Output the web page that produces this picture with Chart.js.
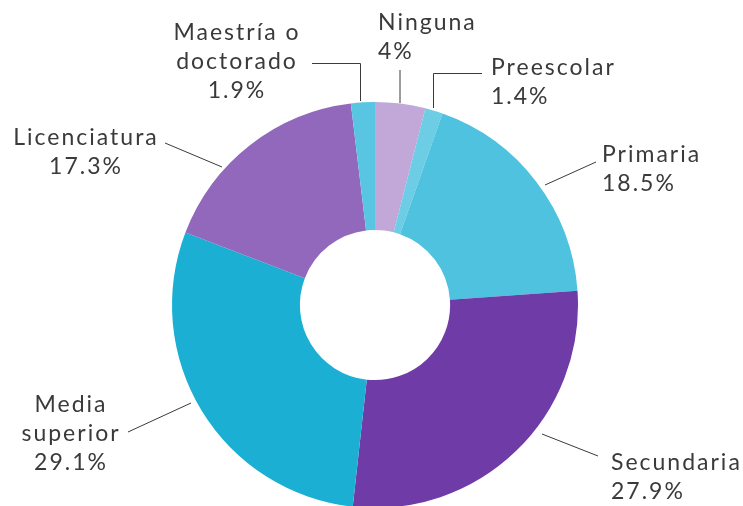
<!DOCTYPE html>
<html>
<head>
<meta charset="utf-8">
<script src="https://cdn.jsdelivr.net/npm/chart.js@4/dist/chart.umd.min.js"></script>
<style>
  html, body { margin: 0; padding: 0; background: #fff; }
  #wrap { width: 743px; height: 506px; overflow: hidden; position: relative; }
  canvas { display: block; }
</style>
</head>
<body>
<div id="wrap"><canvas id="c" width="743" height="512"></canvas></div>
<script>
const categories = ["Ninguna", "Preescolar", "Primaria", "Secundaria", "Media superior", "Licenciatura", "Maestría o doctorado"];
const values = [4, 1.4, 18.5, 27.9, 29.1, 17.3, 1.9];
const valueLabels = ["4%", "1.4%", "18.5%", "27.9%", "29.1%", "17.3%", "1.9%"];
const colors = ["#c1a8d9", "#6dcde5", "#4fc2df", "#6f3ba7", "#1cafd4", "#9168bb", "#58c6e2"];

// label layout: text lines, anchor x, first baseline, alignment, leader polyline
const labelLayout = [
  { lines: ["Ninguna", valueLabels[0]], x: 378, y: 30, align: "left", leader: [[400, 70], [400, 103]] },
  { lines: ["Preescolar", valueLabels[1]], x: 491, y: 75, align: "left", leader: [[482, 73.5], [433.5, 73.5], [433.5, 108]] },
  { lines: ["Primaria", valueLabels[2]], x: 602, y: 162, align: "left", leader: [[596, 162], [545, 185]] },
  { lines: ["Secundaria", valueLabels[3]], x: 611, y: 470, align: "left", leader: [[598, 456], [542, 434]] },
  { lines: ["Media", "superior", valueLabels[4]], x: 71, y: 412, align: "center", leader: [[128, 432], [191, 403]] },
  { lines: ["Licenciatura", valueLabels[5]], x: 86, y: 145, align: "center", leader: [[165, 143], [222, 167]] },
  { lines: ["Maestría o", "doctorado", valueLabels[6]], x: 237, y: 40, align: "center", leader: [[312, 63.5], [360.5, 63.5], [360.5, 101]] }
];

const labelPlugin = {
  id: "labels",
  afterDraw(chart) {
    const ctx = chart.ctx;
    ctx.save();
    ctx.strokeStyle = "#3a3a3a";
    ctx.lineWidth = 1;
    ctx.fillStyle = "#3a3a3a";
    ctx.font = "400 23px Lato, 'Open Sans', sans-serif";
    if ('letterSpacing' in ctx) ctx.letterSpacing = "2px";
    ctx.textBaseline = "alphabetic";
    labelLayout.forEach(l => {
      ctx.beginPath();
      l.leader.forEach((p, i) => i ? ctx.lineTo(p[0], p[1]) : ctx.moveTo(p[0], p[1]));
      ctx.stroke();
      ctx.textAlign = l.align;
      l.lines.forEach((t, i) => ctx.fillText(t, l.x, l.y + i * 29));
    });
    ctx.restore();
  }
};

new Chart(document.getElementById("c"), {
  type: "doughnut",
  data: {
    labels: categories,
    datasets: [{ data: values, backgroundColor: colors, borderWidth: 0 }]
  },
  options: {
    responsive: false,
    animation: false,
    cutout: "37%",
    layout: { padding: { top: 102, bottom: 4, left: 172, right: 165 } },
    plugins: { legend: { display: false }, tooltip: { enabled: false } }
  },
  plugins: [labelPlugin]
});
</script>
</body>
</html>
